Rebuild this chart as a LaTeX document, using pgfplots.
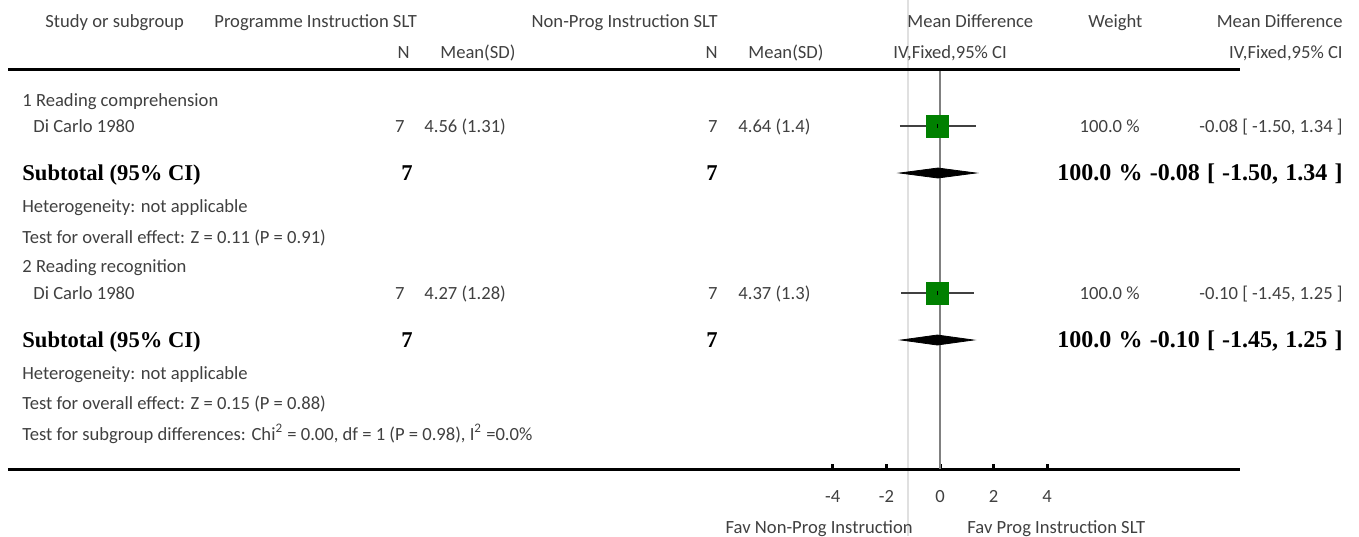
\documentclass[border=0pt]{standalone}
\usepackage{pgfplots}
\pgfplotsset{compat=1.18}
\usepackage{fontspec}
\setmainfont{Carlito}
\newfontfamily\tnr{Liberation Serif}
\definecolor{fgreen}{RGB}{0,128,0}
\newcommand{\reg}{\fontsize{9.3}{11}\selectfont}
\newcommand{\bsub}{\tnr\bfseries\fontsize{11.3}{13}\selectfont}
\newcommand{\bwide}{\tnr\bfseries\fontsize{12}{14}\selectfont\spaceskip=0.3em plus 0.1em}
\begin{document}
\begin{tikzpicture}
% faint vertical guide
\begin{scope}[x=0.5pt,y=-0.5pt]
\draw[black!12, line width=1pt] (908,0) -- (908,536);
\end{scope}
\begin{axis}[at={(4pt,0pt)}, anchor=north west, scale only axis,
  width=616pt, height=234.5pt,
  xmin=-34.7761, xmax=11.194, ymin=-469, ymax=0,
  axis x line*=bottom, axis y line=none, ytick=\empty,
  xtick={-4,-2,0,2,4}, xticklabels={-4,-2,0,2,4},
  tick align=inside, major tick length=2.5pt,
  x tick style={line width=1.5pt, black},
  axis line style={line width=1.5pt, black, -},
  xticklabel style={font=\reg, text=black!75, yshift=-7pt},
  clip=false]
% zero line
\addplot[black!50, line width=0.6pt] coordinates {(0,-69) (0,-469)};
% confidence intervals of studies
\addplot[black!75, line width=0.6pt] coordinates {(-1.50,-126) (1.34,-126)};
\addplot[black!75, line width=0.6pt] coordinates {(-1.45,-293) (1.25,-293)};
% study estimates
\addplot[only marks, mark=square*, mark size=5.5pt, fgreen, mark options={draw=fgreen, fill=fgreen}] coordinates {(-0.08,-126) (-0.10,-293)};
\addplot[only marks, mark=|, mark size=1pt, black, mark options={line width=0.6pt}] coordinates {(-0.08,-126) (-0.10,-293)};
% pooled diamonds
\addplot[fill=black, draw=black] coordinates {(-1.50,-173) (-0.08,-168) (1.34,-173) (-0.08,-178)} -- cycle;
\addplot[fill=black, draw=black] coordinates {(-1.45,-340) (-0.10,-335) (1.25,-340) (-0.10,-345)} -- cycle;
\end{axis}
\begin{scope}[x=0.5pt,y=-0.5pt, every node/.style={inner sep=0pt, font=\reg, text=black!75}]
\draw[line width=1.5pt] (8,69) -- (1240,69);
% header row 1
\node[anchor=base west] at (45,27) {Study or subgroup};
\node[anchor=base west] at (214,27) {Programme Instruction SLT};
\node[anchor=base east] at (718,27) {Non-Prog Instruction SLT};
\node[anchor=base west] at (907,27) {Mean Difference};
\node[anchor=base west] at (1088,27) {Weight};
\node[anchor=base east] at (1343,27) {Mean Difference};
% header row 2
\node[anchor=base east] at (410,58) {N};
\node[anchor=base west] at (440,58) {Mean(SD)};
\node[anchor=base east] at (718,58) {N};
\node[anchor=base west] at (748,58) {Mean(SD)};
\node[anchor=base west] at (893,58) {IV,Fixed,95\% CI};
\node[anchor=base east] at (1343,58) {IV,Fixed,95\% CI};
% group 1
\node[anchor=base west] at (22,106) {1 Reading comprehension};
\node[anchor=base west] at (33,132) {Di Carlo 1980};
\node[anchor=base east] at (405,132) {7};
\node[anchor=base west] at (424,132) {4.56 (1.31)};
\node[anchor=base east] at (718,132) {7};
\node[anchor=base west] at (738,132) {4.64 (1.4)};
\node[anchor=base east] at (1140,132) {100.0 \%};
\node[anchor=base east] at (1343,132) {-0.08 [ -1.50, 1.34 ]};
\node[anchor=base west, font=\bsub, text=black] at (22,180) {Subtotal (95\% CI)};
\node[anchor=base east, font=\bsub, text=black] at (413,180) {7};
\node[anchor=base east, font=\bsub, text=black] at (718,180) {7};
\node[anchor=base east, font=\bwide, text=black] at (1343,180) {100.0 \% -0.08 [ -1.50, 1.34 ]};
\node[anchor=base west] at (22,212) {Heterogeneity: not applicable};
\node[anchor=base west] at (22,243) {Test for overall effect: Z = 0.11 (P = 0.91)};
% group 2
\node[anchor=base west] at (22,272) {2 Reading recognition};
\node[anchor=base west] at (33,299) {Di Carlo 1980};
\node[anchor=base east] at (405,299) {7};
\node[anchor=base west] at (424,299) {4.27 (1.28)};
\node[anchor=base east] at (718,299) {7};
\node[anchor=base west] at (738,299) {4.37 (1.3)};
\node[anchor=base east] at (1140,299) {100.0 \%};
\node[anchor=base east] at (1343,299) {-0.10 [ -1.45, 1.25 ]};
\node[anchor=base west, font=\bsub, text=black] at (22,347) {Subtotal (95\% CI)};
\node[anchor=base east, font=\bsub, text=black] at (413,347) {7};
\node[anchor=base east, font=\bsub, text=black] at (718,347) {7};
\node[anchor=base east, font=\bwide, text=black] at (1343,347) {100.0 \% -0.10 [ -1.45, 1.25 ]};
\node[anchor=base west] at (22,379) {Heterogeneity: not applicable};
\node[anchor=base west] at (22,409) {Test for overall effect: Z = 0.15 (P = 0.88)};
\node[anchor=base west] at (22,440) {Test for subgroup differences: Chi\textsuperscript{2} = 0.00, df = 1 (P = 0.98), I\textsuperscript{2} =0.0\%};
% favours labels
\node[anchor=base east] at (913,533) {Fav Non-Prog Instruction};
\node[anchor=base west] at (967,533) {Fav Prog Instruction SLT};
\end{scope}
\pgfresetboundingbox
\path[use as bounding box] (0,0) rectangle (679.5pt,-268pt);
\end{tikzpicture}
\end{document}
